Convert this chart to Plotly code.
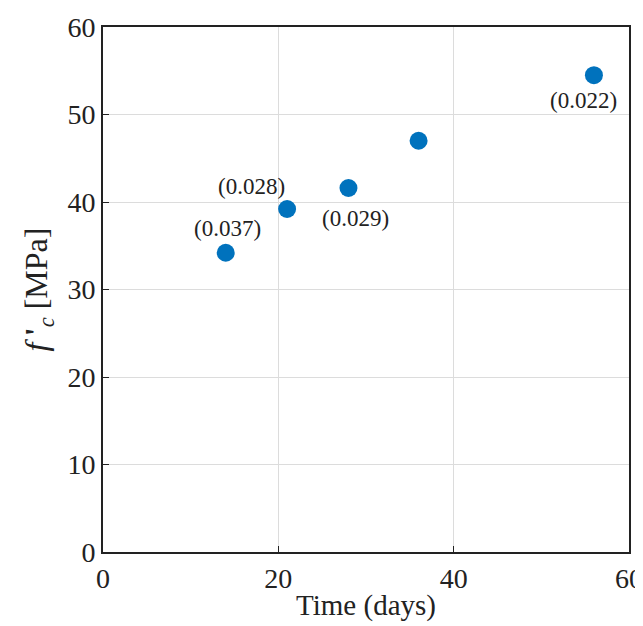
import plotly.graph_objects as go

time_days = [14, 21, 28, 36, 56]
fc_mpa = [34.2, 39.2, 41.6, 47.0, 54.5]
labels = ["(0.037)", "(0.028)", "(0.029)", "", "(0.022)"]
x_ticks = [0, 20, 40, 60]
y_ticks = [0, 10, 20, 30, 40, 50, 60]

# label offsets (pixels) relative to each point
label_dx = [2, -36, 7, 0, -10]
label_dy = [24, 23, -30, 0, -25]

FONT = "Liberation Serif, Times New Roman, serif"

fig = go.Figure()
fig.add_trace(go.Scatter(
    x=time_days, y=fc_mpa, mode="markers",
    marker=dict(size=18, color="#0072BD", line=dict(width=0)),
    showlegend=False,
))

for x, y, t, dx, dy in zip(time_days, fc_mpa, labels, label_dx, label_dy):
    if t:
        fig.add_annotation(x=x, y=y, text=t, showarrow=False,
                           xshift=dx, yshift=dy,
                           font=dict(family=FONT, size=23, color="#222"))

axis_common = dict(
    showline=True, linecolor="#222", linewidth=2, mirror=True,
    showgrid=True, gridcolor="#dcdcdc", gridwidth=1,
    ticks="inside", ticklen=6, tickcolor="#222", tickwidth=1,
    zeroline=False, automargin=False,
    tickfont=dict(family=FONT, size=28, color="#222"),
)

fig.update_xaxes(range=[0, 60], tickvals=x_ticks,
                 title=dict(text="Time (days)", font=dict(family=FONT, size=29, color="#222"), standoff=2),
                 **axis_common)
fig.update_yaxes(range=[0, 60], tickvals=y_ticks,
                 title=dict(text="<i>f</i>\u2009<b>'</b><sub><i>c</i></sub> [MPa]", font=dict(family=FONT, size=32, color="#222"), standoff=10),
                 **axis_common)

fig.update_layout(
    width=635, height=618,
    margin=dict(l=95, r=14, t=19, b=74),
    plot_bgcolor="white", paper_bgcolor="white",
    font=dict(family=FONT),
)

fig.write_html("out.html")
